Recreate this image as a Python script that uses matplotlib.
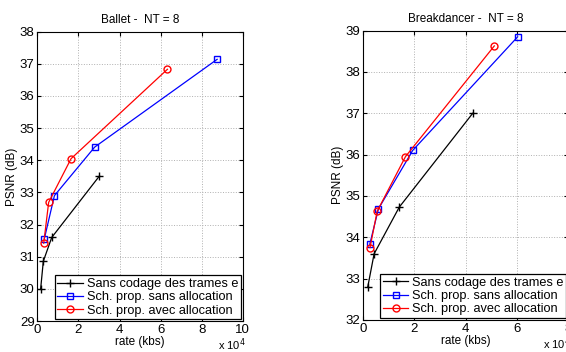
import matplotlib
matplotlib.use("Agg")
import matplotlib.pyplot as plt

plt.rcParams["font.family"] = ["Liberation Sans", "DejaVu Sans"]

# Ballet, NT = 8 (rate in kbs)
ballet_ref_rate = [1600, 2900, 7000, 30200]
ballet_ref_psnr = [30.0, 30.86, 31.6, 33.51]
ballet_sans_rate = [3400, 8300, 27900, 87500]
ballet_sans_psnr = [31.56, 32.9, 34.41, 37.14]
ballet_avec_rate = [3100, 5500, 16400, 63300]
ballet_avec_psnr = [31.42, 32.69, 34.05, 36.83]

# Breakdancer, NT = 8
bd_ref_rate = [1900, 4400, 14200, 42800]
bd_ref_psnr = [32.79, 33.6, 34.73, 37.0]
bd_sans_rate = [2700, 6100, 19400, 60300]
bd_sans_psnr = [33.83, 34.69, 36.1, 38.85]
bd_avec_rate = [2800, 5600, 16600, 51200]
bd_avec_psnr = [33.75, 34.63, 35.95, 38.63]

labels = ["Sans codage des trames e",
          "Sch. prop. sans allocation",
          "Sch. prop. avec allocation"]

fig = plt.figure(figsize=(5.66, 3.52), dpi=100)
ax1 = fig.add_axes([0.066, 0.088, 0.363, 0.822])
ax2 = fig.add_axes([0.641, 0.091, 0.363, 0.822])


def draw(ax, title, series, xlim, ylim, xticks, yticks):
    styles = [("k", "+", 6, "k"), ("b", "s", 4, "b"), ("r", "o", 5, "r")]
    for (rate, psnr), (c, m, ms, ec), lab in zip(series, styles, labels):
        ax.plot([r / 1e4 for r in rate], psnr, color=c, marker=m, ms=ms,
                mfc="none", mec=ec, lw=0.9, label=lab)
    ax.set_xlim(*xlim)
    ax.set_ylim(*ylim)
    ax.set_xticks(xticks)
    ax.set_yticks(yticks)
    ax.grid(True, linestyle=":", color="#b0b0b0", lw=0.7)
    ax.tick_params(direction="in", top=True, right=True, labelsize=9.5,
                   length=3, pad=2)
    ax.set_title(title, fontsize=8.5, pad=6)
    ax.set_xlabel("rate (kbs)", fontsize=8.5, labelpad=0)
    ax.set_ylabel("PSNR (dB)", fontsize=8.5, labelpad=1)
    ax.text(0.877, -0.082, "x 10$^4$", transform=ax.transAxes, fontsize=8,
            ha="left", va="center")
    leg = ax.legend(loc="lower right", fontsize=9.2, fancybox=False,
                    framealpha=1, edgecolor="k", borderpad=0.2,
                    handlelength=2.0, handletextpad=0.3, labelspacing=0.1,
                    borderaxespad=0.15)
    leg.get_frame().set_linewidth(0.9)


draw(ax1, "Ballet -  NT = 8",
     [(ballet_ref_rate, ballet_ref_psnr), (ballet_sans_rate, ballet_sans_psnr),
      (ballet_avec_rate, ballet_avec_psnr)],
     (0, 10), (29, 38), range(0, 11, 2), range(29, 39))
draw(ax2, "Breakdancer -  NT = 8",
     [(bd_ref_rate, bd_ref_psnr), (bd_sans_rate, bd_sans_psnr),
      (bd_avec_rate, bd_avec_psnr)],
     (0, 8), (32, 39), range(0, 9, 2), range(32, 40))

fig.savefig("out.png", dpi=100)
